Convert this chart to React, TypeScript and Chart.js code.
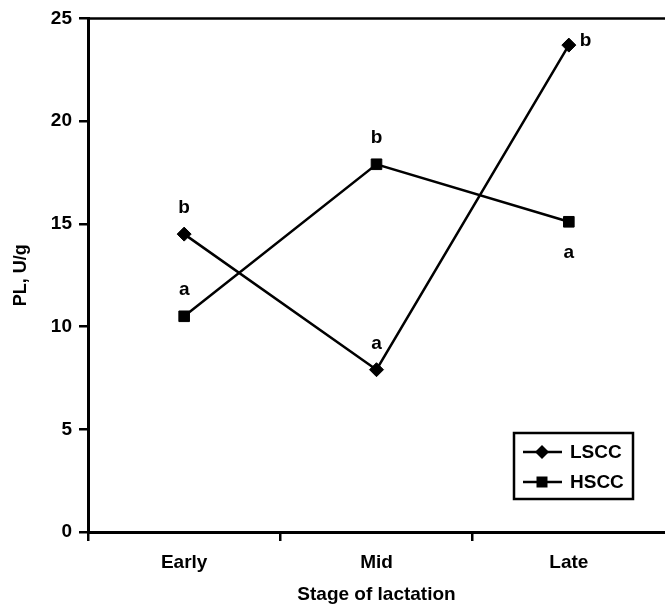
import { useEffect, useRef } from "react";
import { Chart, registerables } from "chart.js";

Chart.register(...registerables);

const categories = ["Early", "Mid", "Late"];
const seriesNames = ["LSCC", "HSCC"];
const lsccValues = [14.5, 7.9, 23.7];
const hsccValues = [10.5, 17.9, 15.1];
const lsccLetters = ["b", "a", "b"];
const hsccLetters = ["a", "b", "a"];
const yMin = 0;
const yMax = 25;
const yStep = 5;
const xTitle = "Stage of lactation";
const yTitle = "PL, U/g";

const FONT = "'Liberation Sans', Arial, Helvetica, sans-serif";

const overlay = {
  id: "overlay",
  afterDatasetsDraw(chart: any) {
    const ctx = chart.ctx as CanvasRenderingContext2D;
    const { left, right, top, bottom } = chart.chartArea;
    ctx.save();
    ctx.strokeStyle = "#000";
    ctx.fillStyle = "#000";
    ctx.lineWidth = 2.5;
    // top frame line
    ctx.beginPath();
    ctx.moveTo(left, top);
    ctx.lineTo(right, top);
    ctx.stroke();

    // significance letters
    ctx.font = `bold 19px ${FONT}`;
    ctx.textBaseline = "alphabetic";
    const letterSets = [lsccLetters, hsccLetters];
    const placements = [
      ["above", "above", "right"],
      ["above", "above", "below"],
    ];
    letterSets.forEach((letters, di) => {
      const meta = chart.getDatasetMeta(di);
      meta.data.forEach((pt: any, i: number) => {
        const place = placements[di][i];
        if (place === "above") {
          ctx.textAlign = "center";
          ctx.fillText(letters[i], pt.x, pt.y - 21);
        } else if (place === "right") {
          ctx.textAlign = "left";
          ctx.fillText(letters[i], pt.x + 11, pt.y + 1);
        } else {
          ctx.textAlign = "center";
          ctx.fillText(letters[i], pt.x, pt.y + 36);
        }
      });
    });

    // legend box
    const x0 = right - 151;
    const y0 = bottom - 99;
    ctx.lineWidth = 2.5;
    ctx.strokeRect(x0, y0, 119, 66);
    const rows = [y0 + 19, y0 + 49];
    rows.forEach((ry, di) => {
      ctx.lineWidth = 2.5;
      ctx.beginPath();
      ctx.moveTo(x0 + 9, ry);
      ctx.lineTo(x0 + 48, ry);
      ctx.stroke();
      const cx = x0 + 28;
      ctx.beginPath();
      if (di === 0) {
        ctx.moveTo(cx, ry - 7);
        ctx.lineTo(cx + 7, ry);
        ctx.lineTo(cx, ry + 7);
        ctx.lineTo(cx - 7, ry);
        ctx.closePath();
      } else {
        ctx.rect(cx - 5.5, ry - 5.5, 11, 11);
      }
      ctx.fill();
      ctx.textAlign = "left";
      ctx.textBaseline = "middle";
      ctx.fillText(seriesNames[di], x0 + 56, ry + 1);
    });
    ctx.restore();
  },
};

export default function App() {
  const ref = useRef<HTMLCanvasElement | null>(null);
  useEffect(() => {
    if (!ref.current) return;
    Chart.defaults.font.family = FONT;
    const chart = new Chart(ref.current, {
      type: "line",
      data: {
        labels: categories,
        datasets: [
          {
            label: seriesNames[0],
            data: lsccValues,
            borderColor: "#000",
            backgroundColor: "#000",
            borderWidth: 2.5,
            pointStyle: "rectRot",
            pointRadius: 7,
            pointBorderWidth: 1,
            pointBackgroundColor: "#000",
            pointBorderColor: "#000",
            tension: 0,
            clip: false as any,
          },
          {
            label: seriesNames[1],
            data: hsccValues,
            borderColor: "#000",
            backgroundColor: "#000",
            borderWidth: 2.5,
            pointStyle: "rect",
            pointRadius: 7.5,
            pointBorderWidth: 1,
            pointBackgroundColor: "#000",
            pointBorderColor: "#000",
            tension: 0,
            clip: false as any,
          },
        ],
      },
      options: {
        animation: false,
        responsive: false,
        layout: { autoPadding: false, padding: { top: 16, left: 0, right: 0, bottom: 0 } },
        plugins: {
          legend: { display: false },
          tooltip: { enabled: false },
        },
        scales: {
          x: {
            type: "category",
            offset: true,
            grid: {
              offset: true,
              drawOnChartArea: false,
              drawTicks: true,
              tickLength: 9,
              color: (c: any) => (c.index === undefined || c.type !== "tick" ? "rgba(0,0,0,0)" : "#000"),
              lineWidth: 2.5,
            },
            border: { display: true, color: "#000", width: 3 },
            ticks: {
              color: "#000",
              font: { size: 19, weight: "bold" },
              padding: 10,
            },
            title: {
              display: true,
              text: xTitle,
              color: "#000",
              font: { size: 19, weight: "bold" },
              padding: { top: 0, bottom: 3 },
            },
            afterFit: (scale: any) => {
              scale.height = 77;
              scale.paddingLeft = 0;
              scale.paddingRight = 0;
            },
          },
          y: {
            min: yMin,
            max: yMax,
            grid: {
              drawOnChartArea: false,
              drawTicks: true,
              tickLength: 9,
              color: "#000",
              lineWidth: 2.5,
            },
            border: { display: true, color: "#000", width: 3 },
            ticks: {
              stepSize: yStep,
              color: "#000",
              font: { size: 19, weight: "bold" },
              padding: 7,
            },
            title: {
              display: true,
              text: yTitle,
              color: "#000",
              font: { size: 18, weight: "bold" },
              padding: { top: 10, bottom: 0 },
            },
            afterFit: (scale: any) => {
              scale.width = 88;
            },
          },
        },
      },
      plugins: [overlay],
    });
    return () => chart.destroy();
  }, []);

  return (
    <div style={{ position: "absolute", left: 0, top: 0, width: 665, height: 609, background: "#fff" }}>
      <canvas ref={ref} width={665} height={609} style={{ display: "block" }} />
    </div>
  );
}
